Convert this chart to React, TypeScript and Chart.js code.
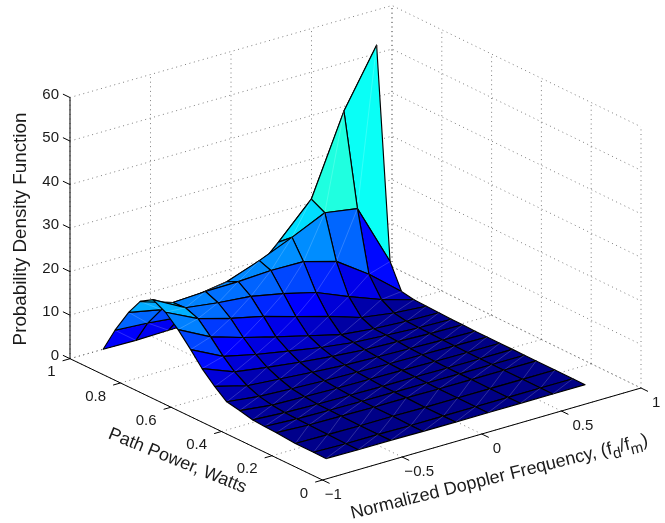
import React, { useEffect, useRef } from "react";
import { Chart, registerables } from "chart.js";

Chart.register(...registerables);

// Surface data: doppler columns, power rows, density values (rows by power, columns by doppler)
const dopplerValues = [-0.83, -0.627, -0.424, -0.22, -0.017, 0.186, 0.39, 0.593, 0.796];
const powerValues = [0.094, 0.143, 0.215, 0.29, 0.337, 0.385, 0.436, 0.487, 0.535, 0.585, 0.63, 0.68, 0.73, 0.78, 0.83, 0.876, 0.93, 0.977];
const densityRow00 = [0.5, 0.4, 0.4, 0.3, 0.3, 0.3, 0.3, 0.3, 0.3];
const densityRow01 = [0.6, 0.4, 0.4, 0.3, 0.3, 0.3, 0.3, 0.3, 0.3];
const densityRow02 = [0.6, 0.5, 0.4, 0.4, 0.3, 0.3, 0.3, 0.3, 0.3];
const densityRow03 = [1.0, 0.6, 0.5, 0.4, 0.4, 0.3, 0.3, 0.3, 0.3];
const densityRow03b = [1.1, 0.7, 0.55, 0.45, 0.4, 0.35, 0.3, 0.3, 0.3];
const densityRow04 = [1.3, 0.8, 0.6, 0.5, 0.4, 0.4, 0.3, 0.3, 0.3];
const densityRow05 = [2.0, 1.1, 0.9, 0.7, 0.6, 0.5, 0.4, 0.3, 0.3];
const densityRow06 = [2.6, 1.7, 1.3, 1.0, 0.8, 0.6, 0.5, 0.4, 0.3];
const densityRow07 = [4.8, 2.8, 2.2, 1.6, 1.1, 0.8, 0.6, 0.4, 0.3];
const densityRow08 = [7.5, 4.6, 3.5, 2.5, 1.7, 1.1, 0.8, 0.5, 0.4];
const densityRow09 = [10.6, 6.9, 5.2, 3.8, 2.5, 1.5, 1.0, 0.6, 0.4];
const densityRow10 = [13.8, 10.0, 7.7, 5.7, 3.8, 1.9, 1.1, 0.7, 0.5];
const densityRow11 = [16.4, 12.8, 10.7, 9.0, 6.8, 4.7, 2.3, 1.2, 0.6];
const densityRow12 = [17.9, 13.9, 12.9, 12.2, 10.7, 8.8, 5.7, 2.9, 0.7];
const densityRow13 = [16.1, 13.7, 14.1, 14.2, 14.6, 14.5, 12.4, 7.3, 1.2];
const densityRow14 = [12.3, 10.8, 11.7, 12.9, 15.6, 18.8, 22.3, 21.1, 6.8];
const densityRow15 = [6.7, 6.2, 5.4, 6.5, 9.0, 16.2, 23.9, 42.0, 55.0];
const densityRow16 = [1.0, 0.9, 1.1, 1.2, 1.3, 1.4, 1.4, 1.4, 1.4];
const density = [
  densityRow00, densityRow01, densityRow02, densityRow03, densityRow03b, densityRow04, densityRow05,
  densityRow06, densityRow07, densityRow08, densityRow09, densityRow10, densityRow11,
  densityRow12, densityRow13, densityRow14, densityRow15, densityRow16,
];

// Axis ticks
const dopplerTicks = [-1, -0.5, 0, 0.5, 1];
const dopplerTickLabels = ["\u22121", "\u22120.5", "0", "0.5", "1"];
const powerTicks = [0, 0.2, 0.4, 0.6, 0.8, 1];
const powerTickLabels = ["0", "0.2", "0.4", "0.6", "0.8", "1"];
const densityTicks = [0, 10, 20, 30, 40, 50, 60];
const densityTickLabels = ["0", "10", "20", "30", "40", "50", "60"];

const zLabel = "Probability Density Function";
const yLabel = "Path Power, Watts";
const xLabelParts = ["Normalized Doppler Frequency, (f", "d", "/f", "m", ")"];

const colorMax = 55;
const FONT = '"Liberation Sans", Arial, sans-serif';

// Oblique view: data coordinates to the plane of the scales
const project = (d: number, p: number, z: number) => {
  const u = (d + 1) / 2;
  return {
    x: 322.5 + 318.5 * u - 252.5 * p + 3.5 * u * p,
    y: 480 - 92 * u - 121.3 * p - 4.353 * z,
  };
};

const jet = (f: number) => {
  const c = (v: number) => Math.round(255 * Math.max(0, Math.min(1, v)));
  const r = 1.5 - Math.abs(4 * f - 3);
  const g = 1.5 - Math.abs(4 * f - 2);
  const b = 1.5 - Math.abs(4 * f - 1);
  return `rgb(${c(r)},${c(g)},${c(b)})`;
};

const lineSet = (points: { x: number; y: number }[], color: string, width: number, dash: number[] = []) => ({
  type: "line" as const,
  data: points,
  borderColor: color,
  borderWidth: width,
  borderDash: dash,
  pointRadius: 0,
  fill: false,
  tension: 0,
  parsing: false as const,
});

const buildDatasets = () => {
  const sets: any[] = [];
  const dotted = "rgba(40,40,40,0.75)";
  const dots = [1, 3.6];
  const dMin = -1, dMax = 1, pMin = 0, pMax = 1, zMin = 0, zMax = 60;

  // back walls: horizontal grid lines
  densityTicks.forEach((z) => {
    sets.push(lineSet([project(dMin, pMax, z), project(dMax, pMax, z), project(dMax, pMin, z)], dotted, 0.8, dots));
  });
  // back walls: vertical grid lines, and floor grid lines
  dopplerTicks.forEach((d) => {
    sets.push(lineSet([project(d, pMax, zMin), project(d, pMax, zMax)], dotted, 0.8, dots));
    sets.push(lineSet([project(d, pMin, zMin), project(d, pMax, zMin)], dotted, 0.8, dots));
  });
  powerTicks.forEach((p) => {
    sets.push(lineSet([project(dMax, p, zMin), project(dMax, p, zMax)], dotted, 0.8, dots));
    sets.push(lineSet([project(dMin, p, zMin), project(dMax, p, zMin)], dotted, 0.8, dots));
  });

  // box axes and ticks
  const ink = "#000000";
  sets.push(lineSet([project(dMin, pMax, zMin), project(dMin, pMax, zMax)], ink, 1));
  sets.push(lineSet([project(dMin, pMax, zMin), project(dMin, pMin, zMin)], ink, 1));
  sets.push(lineSet([project(dMin, pMin, zMin), project(dMax, pMin, zMin)], ink, 1));
  densityTicks.forEach((z) => {
    sets.push(lineSet([project(dMin, pMax, z), project(dMin, pMax + 0.028, z)], ink, 1));
  });
  powerTicks.forEach((p) => {
    sets.push(lineSet([project(dMin, p, zMin), project(dMin - 0.046, p, zMin)], ink, 1));
  });
  dopplerTicks.forEach((d) => {
    sets.push(lineSet([project(d, pMin, zMin), project(d, pMin - 0.028, zMin)], ink, 1));
  });

  // surface facets, far to near
  for (let r = powerValues.length - 2; r >= 0; r--) {
    for (let c = dopplerValues.length - 2; c >= 0; c--) {
      const a = project(dopplerValues[c], powerValues[r], density[r][c]);
      const b = project(dopplerValues[c + 1], powerValues[r], density[r][c + 1]);
      const e = project(dopplerValues[c + 1], powerValues[r + 1], density[r + 1][c + 1]);
      const f = project(dopplerValues[c], powerValues[r + 1], density[r + 1][c]);
      const face = jet(density[r][c] / colorMax);
      sets.push({ ...lineSet([a, b, e, f, a], "#000000", 1.15), faceColor: face });
      sets.push(lineSet([a, e], "rgba(255,255,255,0.3)", 0.6));
    }
  }
  return sets.reverse(); // Chart.js paints the last dataset first
};

const facetFill = {
  id: "facetFill",
  beforeDatasetDraw(chart: any, args: any) {
    const ds = chart.data.datasets[args.index];
    if (!ds.faceColor) return;
    const pts = args.meta.data;
    const ctx = chart.ctx;
    ctx.save();
    ctx.beginPath();
    pts.forEach((pt: any, i: number) => (i ? ctx.lineTo(pt.x, pt.y) : ctx.moveTo(pt.x, pt.y)));
    ctx.closePath();
    ctx.fillStyle = ds.faceColor;
    ctx.fill();
    ctx.restore();
  },
};

const axisText = {
  id: "axisText",
  afterDraw(chart: any) {
    const ctx = chart.ctx;
    const sx = chart.scales.x;
    const sy = chart.scales.y;
    const px = (d: number, p: number, z: number) => {
      const q = project(d, p, z);
      return { x: sx.getPixelForValue(q.x), y: sy.getPixelForValue(q.y) };
    };
    ctx.save();
    ctx.fillStyle = "#1a1a1a";
    ctx.textBaseline = "middle";
    ctx.font = `15px ${FONT}`;

    ctx.textAlign = "right";
    densityTicks.forEach((z, i) => {
      const q = px(-1, 1, z);
      ctx.fillText(densityTickLabels[i], q.x - 11, q.y - 3);
    });
    powerTicks.forEach((p, i) => {
      const q = px(-1, p, 0);
      ctx.fillText(powerTickLabels[i], q.x - 14.5, q.y + 13.5);
    });
    ctx.textAlign = "left";
    dopplerTicks.forEach((d, i) => {
      const q = px(d, 0, 0);
      const label = dopplerTickLabels[i];
      const hang = d < 0 ? ctx.measureText("\u2212").width : 0;
      ctx.fillText(label, q.x + 11 - hang, q.y + 14.5);
    });

    ctx.textAlign = "center";
    ctx.save();
    ctx.font = `18.8px ${FONT}`;
    ctx.translate(21, 229);
    ctx.rotate(-Math.PI / 2);
    ctx.fillText(zLabel, 0, 0);
    ctx.restore();

    ctx.save();
    ctx.font = `18px ${FONT}`;
    ctx.translate(177.5, 461);
    ctx.rotate((22 * Math.PI) / 180);
    ctx.fillText(yLabel, 0, 0);
    ctx.restore();

    ctx.save();
    ctx.translate(351, 514);
    ctx.rotate((-14 * Math.PI) / 180);
    ctx.textAlign = "left";
    let cursor = 0;
    xLabelParts.forEach((part, i) => {
      const sub = i === 1 || i === 3;
      ctx.font = `${sub ? 15 : 18}px ${FONT}`;
      ctx.fillText(part, cursor, sub ? 6 : 0);
      cursor += ctx.measureText(part).width;
    });
    ctx.restore();
    ctx.restore();
  },
};

export default function App() {
  const ref = useRef<HTMLCanvasElement>(null);
  useEffect(() => {
    const chart = new Chart(ref.current!, {
      type: "line",
      data: { datasets: buildDatasets() },
      plugins: [facetFill, axisText],
      options: {
        animation: false,
        responsive: false,
        devicePixelRatio: 1,
        layout: { padding: 0 },
        events: [],
        plugins: { legend: { display: false }, tooltip: { enabled: false }, title: { display: false } },
        elements: { line: { borderCapStyle: "butt", borderJoinStyle: "round" } },
        scales: {
          x: { type: "linear", min: 0, max: 665, display: false },
          y: { type: "linear", min: 0, max: 523, reverse: true, display: false },
        },
      },
    } as any);
    return () => chart.destroy();
  }, []);
  return (
    <div style={{ position: "fixed", left: 0, top: 0, width: 665, height: 523, background: "#fff" }}>
      <canvas ref={ref} width={665} height={523} style={{ display: "block" }} />
    </div>
  );
}
